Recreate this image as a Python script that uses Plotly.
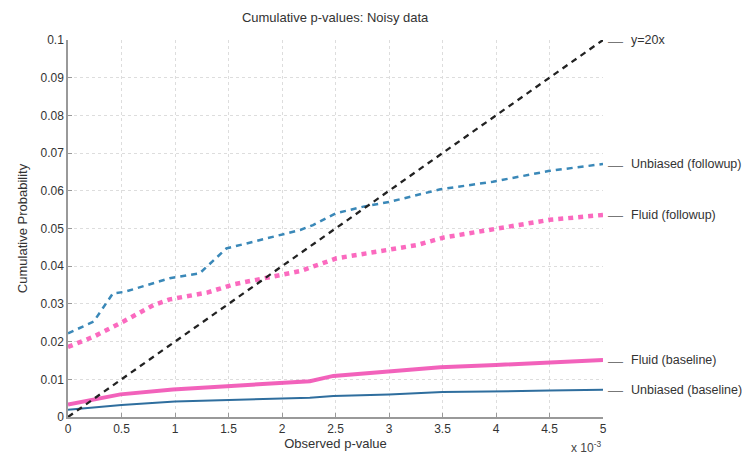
import plotly.graph_objects as go

# x in units of 1e-3 (observed p-value)
ub_fu_x = [0, 0.24, 0.42, 0.53, 0.95, 1.23, 1.48, 1.92, 2.17, 2.29, 2.5, 2.76, 3.01, 3.48, 3.97, 4.5, 5.0]
ub_fu_y = [0.0222, 0.0253, 0.0328, 0.0332, 0.0368, 0.0381, 0.0447, 0.0478, 0.0496, 0.0509, 0.0540, 0.0558, 0.0571, 0.0604, 0.0624, 0.0653, 0.0671]

fl_fu_x = [0, 0.24, 0.49, 0.8, 0.95, 1.3, 1.55, 1.92, 2.17, 2.51, 3.01, 3.26, 3.51, 4.0, 4.5, 5.0]
fl_fu_y = [0.0186, 0.0213, 0.0249, 0.0297, 0.0312, 0.0330, 0.0352, 0.0374, 0.0387, 0.0421, 0.0443, 0.0456, 0.0476, 0.0498, 0.0523, 0.0536]

fl_bl_x = [0, 0.49, 0.98, 1.48, 1.98, 2.26, 2.48, 2.98, 3.48, 4.0, 4.5, 5.0]
fl_bl_y = [0.0033, 0.0060, 0.0073, 0.0082, 0.0091, 0.0095, 0.0109, 0.0120, 0.0132, 0.0138, 0.0145, 0.0151]

ub_bl_x = [0, 0.5, 1.0, 1.5, 2.0, 2.26, 2.48, 3.0, 3.5, 4.0, 4.5, 5.0]
ub_bl_y = [0.0019, 0.0032, 0.0041, 0.0045, 0.0050, 0.0051, 0.0056, 0.0060, 0.0066, 0.0067, 0.0070, 0.0072]

ref_x = [0, 5.0]
ref_y = [0, 0.1]

labels = ["y=20x", "Unbiased (followup)", "Fluid (followup)", "Fluid (baseline)", "Unbiased (baseline)"]

FONT = "Liberation Sans, Arial, sans-serif"

fig = go.Figure()
fig.add_trace(go.Scatter(x=ub_bl_x, y=ub_bl_y, mode="lines", line=dict(color="#2f6e9e", width=2)))
fig.add_trace(go.Scatter(x=fl_bl_x, y=fl_bl_y, mode="lines", line=dict(color="rgba(240,70,175,0.85)", width=4)))
fig.add_trace(go.Scatter(x=ub_fu_x, y=ub_fu_y, mode="lines", line=dict(color="#3a88b8", width=2.5, dash="6px,5px")))
fig.add_trace(go.Scatter(x=fl_fu_x, y=fl_fu_y, mode="lines", line=dict(color="rgba(250,80,180,0.85)", width=4.5, dash="5px,5px")))
fig.add_trace(go.Scatter(x=ref_x, y=ref_y, mode="lines", line=dict(color="#222222", width=2.3, dash="6px,5px"), cliponaxis=False))

ends_y = [ref_y[-1], ub_fu_y[-1], fl_fu_y[-1], fl_bl_y[-1], ub_bl_y[-1]]
for lab, yv in zip(labels, ends_y):
    fig.add_annotation(x=5.0, y=yv, xref="x", yref="y", text="\u2014",
                       showarrow=False, xanchor="left", yanchor="middle", xshift=3,
                       font=dict(family=FONT, size=15, color="#777777"))
    fig.add_annotation(x=5.0, y=yv, xref="x", yref="y", text=lab,
                       showarrow=False, xanchor="left", yanchor="middle", xshift=26,
                       font=dict(family=FONT, size=12.5, color="#333333"))

fig.add_annotation(x=1.0, y=0, xref="paper", yref="paper", text="x 10<sup>-3</sup>",
                   showarrow=False, xanchor="right", yanchor="top", yshift=-20, xshift=0,
                   font=dict(family=FONT, size=12, color="#444444"))

axis_common = dict(showline=True, linecolor="#999999", linewidth=1.5, ticks="inside", ticklen=4,
                   tickcolor="#999999", showgrid=True, gridcolor="#dddddd", griddash="dot", gridwidth=1,
                   zeroline=False, mirror=False,
                   tickfont=dict(family=FONT, size=12, color="#333333"))

fig.update_layout(
    width=748, height=462,
    margin=dict(l=68, r=145, t=40, b=45),
    paper_bgcolor="white", plot_bgcolor="white",
    showlegend=False,
    title=dict(text="Cumulative p-values: Noisy data", x=0.448, xanchor="center", y=0.963, yanchor="middle",
               font=dict(family=FONT, size=13, color="#333333")),
    xaxis=dict(range=[0, 5], dtick=0.5, tick0=0,
               title=dict(text="Observed p-value", standoff=2,
                          font=dict(family=FONT, size=13, color="#333333")),
               **axis_common),
    yaxis=dict(range=[0, 0.1], dtick=0.01, tick0=0,
               title=dict(text="Cumulative Probability", standoff=10,
                          font=dict(family=FONT, size=13, color="#333333")),
               **axis_common),
)

fig.write_html("out.html")
